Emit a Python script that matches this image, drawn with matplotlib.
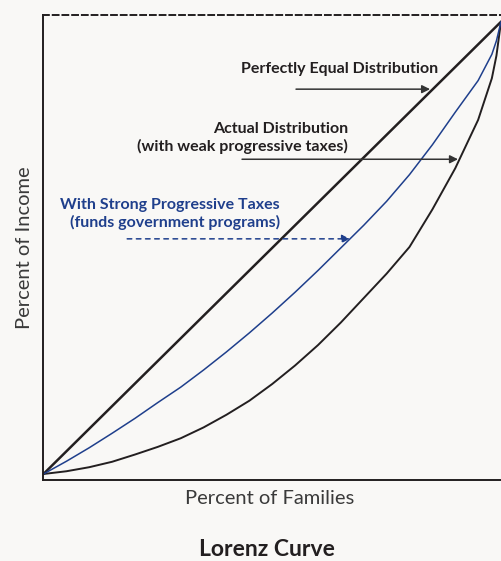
import numpy as np
import matplotlib.pyplot as plt

# Lorenz curve values (percent of families -> percent of income)
families = [0, 5, 10, 15, 20, 25, 30, 35, 40, 45, 50, 55, 60, 65, 70, 75, 80, 85, 90, 95, 98, 99, 100]
equal_income = list(families)
actual_income = [0, 0.6, 1.5, 2.7, 4.3, 6.0, 7.9, 10.3, 13.1, 16.2, 19.9, 24.0, 28.5,
                 33.5, 38.9, 44.3, 50.2, 58.5, 67.6, 78.3, 87.5, 92.5, 100]
strong_tax_income = [0, 2.8, 5.8, 9.0, 12.3, 15.8, 19.2, 23.0, 27.0, 31.2, 35.6, 40.2, 45.0,
                     50.0, 55.0, 60.3, 66.2, 72.8, 80.0, 87.0, 92.8, 95.8, 100]

labels = {
    "equal": "Perfectly Equal Distribution",
    "actual": "Actual Distribution\n(with weak progressive taxes)",
    "strong": "With Strong Progressive Taxes\n(funds government programs)",
}

BG = "#f9f8f6"
INK = "#231f20"
BLUE = "#1f3f8c"

plt.rcParams["font.family"] = ["Lato", "DejaVu Sans"]

fig = plt.figure(figsize=(5.01, 5.61), dpi=100, facecolor=BG)
ax = fig.add_axes([43 / 501, 81 / 561, 458 / 501, 465 / 561])
ax.set_facecolor(BG)

ax.plot(families, equal_income, color=INK, lw=1.8, solid_capstyle="round")
ax.plot(families, actual_income, color=INK, lw=1.4)
ax.plot(families, strong_tax_income, color=BLUE, lw=1.1)

ax.set_xlim(-0.1, 100)
ax.set_ylim(-1.33, 101.5)
ax.set_xticks([])
ax.set_yticks([])

for side in ["left", "bottom", "top"]:
    ax.spines[side].set_color(INK)
    ax.spines[side].set_linewidth(1.4)
ax.spines["top"].set_linestyle((0, (3.0, 2.0)))
ax.spines["right"].set_visible(False)

# annotations
ax.text(86.2, 89.6, labels["equal"], ha="right", va="center",
        fontsize=11.5, fontweight="bold", color=INK)
ax.annotate("", xy=(84.5, 85.1), xytext=(55.2, 85.1),
            arrowprops=dict(arrowstyle="-|>", color="#333333", lw=1.1,
                            mutation_scale=12, shrinkA=0, shrinkB=0))

ax.text(66.6, 74.2, labels["actual"], ha="right", va="center", ma="right",
        fontsize=11.5, fontweight="bold", color=INK, linespacing=1.25)
ax.annotate("", xy=(90.6, 69.6), xytext=(43.4, 69.6),
            arrowprops=dict(arrowstyle="-|>", color="#333333", lw=1.1,
                            mutation_scale=12, shrinkA=0, shrinkB=0))

ax.text(51.7, 57.5, labels["strong"], ha="right", va="center", ma="right",
        fontsize=11.5, fontweight="bold", color=BLUE, linespacing=1.25)
ax.annotate("", xy=(67.0, 52.0), xytext=(18.3, 52.0),
            arrowprops=dict(arrowstyle="-|>", color=BLUE, lw=1.1, ls=(0, (3, 3)),
                            mutation_scale=12, shrinkA=0, shrinkB=0))

# axis labels and title
fig.text(25 / 501, 1 - 248 / 561, "Percent of Income", rotation=90,
         ha="center", va="center", fontsize=14.5, color="#3a3a3a")
fig.text(270 / 501, 1 - 499 / 561, "Percent of Families",
         ha="center", va="center", fontsize=14.5, color="#3a3a3a")
fig.text(267 / 501, 1 - 549 / 561, "Lorenz Curve",
         ha="center", va="center", fontsize=16.5, fontweight="bold", color=INK)

fig.savefig("out.png", dpi=100, facecolor=BG)
